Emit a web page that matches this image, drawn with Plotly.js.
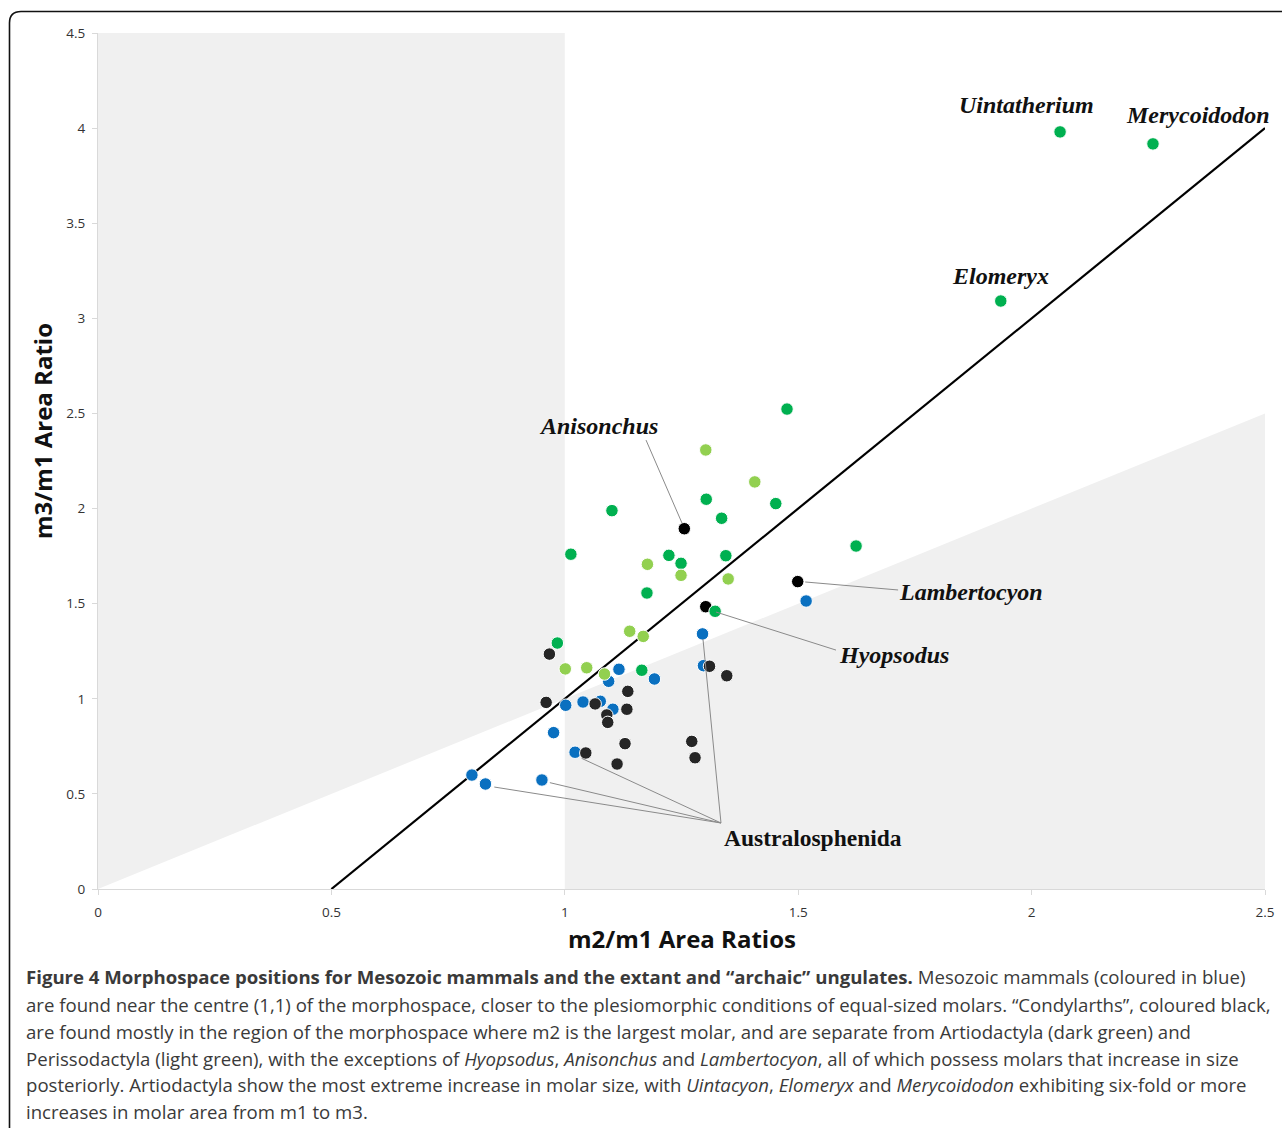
<!DOCTYPE html>
<html>
<head>
<meta charset="utf-8">
<script src="https://cdn.plot.ly/plotly-3.0.1.min.js"></script>
<style>
html,body{margin:0;padding:0;background:#fff;}
#chart{width:1282px;height:1128px;}
</style>
</head>
<body>
<div id="chart"></div>
<script>
// ---- Data (m2/m1 area ratio, m3/m1 area ratio) ----
const mesozoicX = [1.517,1.295,1.116,1.192,1.094,1.297,1.002,1.039,1.076,1.103,0.976,1.022,0.801,0.830,0.951];
const mesozoicY = [1.514,1.341,1.155,1.104,1.092,1.174,0.966,0.983,0.987,0.945,0.822,0.719,0.599,0.552,0.573];

const condylarthX = [0.967,1.310,1.347,1.135,0.960,1.065,1.133,1.090,1.092,1.129,1.272,1.279,1.045,1.112];
const condylarthY = [1.235,1.171,1.121,1.039,0.981,0.973,0.945,0.915,0.876,0.764,0.776,0.690,0.715,0.657];

// labelled condylarths: Anisonchus, Lambertocyon, Hyopsodus
const namedCondylarthX = [1.256,1.499,1.302];
const namedCondylarthY = [1.894,1.616,1.484];

const artiodactylaX = [2.061,2.260,1.934,1.476,1.303,1.452,1.336,1.101,1.624,1.013,1.223,1.249,1.345,1.176,1.322,0.984,1.165];
const artiodactylaY = [3.980,3.917,3.091,2.523,2.049,2.026,1.949,1.989,1.803,1.760,1.754,1.712,1.752,1.556,1.460,1.293,1.150];

const perissodactylaX = [1.302,1.407,1.177,1.249,1.350,1.139,1.168,1.001,1.047,1.085];
const perissodactylaY = [2.308,2.140,1.707,1.649,1.630,1.355,1.328,1.157,1.163,1.130];

// reference line m3/m1 = 2*(m2/m1) - 1
const refLineX = [0.5, 2.5];
const refLineY = [0, 4];

// taxon labels
const labelText = ["Uintatherium","Merycoidodon","Elomeryx","Anisonchus","Lambertocyon","Hyopsodus"];
const labelX    = [1.990, 2.356, 1.934, 1.073, 1.870, 1.705];
const labelY    = [4.12, 4.068, 3.225, 2.435, 1.563, 1.232];

const austLabel = {text:"Australosphenida", x:1.531, y:0.268};
// callout lines: [x0,y0,x1,y1]
const callouts = [
  [1.174,2.360,1.251,1.924],
  [1.515,1.614,1.714,1.572],
  [1.324,1.456,1.581,1.256],
  [1.3346,0.347,1.296,1.314],
  [1.3346,0.347,0.849,0.536],
  [1.3346,0.347,0.968,0.559],
  [1.3346,0.347,1.036,0.687]
];

const xTicks = [0,0.5,1,1.5,2,2.5];
const yTicks = [0,0.5,1,1.5,2,2.5,3,3.5,4,4.5];

const xTitle = "m2/m1 Area Ratios";
const yTitle = "m3/m1 Area Ratio";

const captionLines = [
  "<b>Figure 4 Morphospace positions for Mesozoic mammals and the extant and “archaic” ungulates.</b> Mesozoic mammals (coloured in blue)",
  "are found near the centre (1,1) of the morphospace, closer to the plesiomorphic conditions of equal-sized molars. “Condylarths”, coloured black,",
  "are found mostly in the region of the morphospace where m2 is the largest molar, and are separate from Artiodactyla (dark green) and",
  "Perissodactyla (light green), with the exceptions of <i>Hyopsodus</i>, <i>Anisonchus</i> and <i>Lambertocyon</i>, all of which possess molars that increase in size",
  "posteriorly. Artiodactyla show the most extreme increase in molar size, with <i>Uintacyon</i>, <i>Elomeryx</i> and <i>Merycoidodon</i> exhibiting six-fold or more",
  "increases in molar area from m1 to m3."
];

// ---- Layout geometry ----
const W = 1282, H = 1128;
const M = {l:98, r:17, t:33, b:239};
const pw = W - M.l - M.r, ph = H - M.t - M.b;
const px = v => (v - M.l) / pw;            // pixel x -> paper
const py = v => (H - M.b - v) / ph;        // pixel y -> paper

function mk(color){
  return {size:12.5, color:color, line:{color:'#ffffff', width:1}};
}

const traces = [
  {x:refLineX, y:refLineY, mode:'lines', line:{color:'#000000', width:2.2}, hoverinfo:'skip', name:'ref'},
  {x:mesozoicX, y:mesozoicY, mode:'markers', marker:mk('#0a70c0'), name:'Mesozoic mammals'},
  {x:condylarthX, y:condylarthY, mode:'markers', marker:mk('#262626'), name:'Condylarths'},
  {x:namedCondylarthX, y:namedCondylarthY, mode:'markers', marker:mk('#000000'), name:'Condylarths (named)'},
  {x:artiodactylaX, y:artiodactylaY, mode:'markers', marker:mk('#00b050'), name:'Artiodactyla'},
  {x:perissodactylaX, y:perissodactylaY, mode:'markers', marker:mk('#92d050'), name:'Perissodactyla'}
];

const shapes = [
  {type:'path', xref:'x', yref:'y', path:'M0,0 L1,1 L1,4.5 L0,4.5 Z', fillcolor:'#f0f0f0', line:{width:0}, layer:'below'},
  {type:'path', xref:'x', yref:'y', path:'M1,0 L2.5,0 L2.5,2.5 L1,1 Z', fillcolor:'#f0f0f0', line:{width:0}, layer:'below'},
  // page frame
  {type:'path', xref:'paper', yref:'paper',
   path:`M${px(9.5)},${py(1128)} L${px(9.5)},${py(23)} Q${px(9.5)},${py(11.5)} ${px(21)},${py(11.5)} L${px(1282)},${py(11.5)}`,
   line:{color:'#111111', width:1.6}, fillcolor:'rgba(0,0,0,0)'}
];
callouts.forEach(c => shapes.push({type:'line', xref:'x', yref:'y', x0:c[0], y0:c[1], x1:c[2], y1:c[3], line:{color:'#8a8a8a', width:1}}));

const annotations = [];
labelText.forEach((t,i) => annotations.push({
  x:labelX[i], y:labelY[i], xref:'x', yref:'y', text:'<b><i>'+t+'</i></b>', showarrow:false,
  font:{family:'Liberation Serif, Times New Roman, serif', size:24, color:'#111111'}
}));
annotations.push({x:austLabel.x, y:austLabel.y, xref:'x', yref:'y', text:'<b>'+austLabel.text+'</b>', showarrow:false,
  font:{family:'Liberation Serif, Times New Roman, serif', size:23.5, color:'#111111'}});

// axis titles
annotations.push({x:px(682), y:py(939), xref:'paper', yref:'paper', xanchor:'center', yanchor:'middle',
  text:'<b>'+xTitle+'</b>', showarrow:false, font:{family:'Open Sans, sans-serif', size:24, color:'#111111'}});
annotations.push({x:px(42), y:py(431), xref:'paper', yref:'paper', xanchor:'center', yanchor:'middle', textangle:-90,
  text:'<b>'+yTitle+'</b>', showarrow:false, font:{family:'Open Sans, sans-serif', size:24, color:'#111111'}});

const capY = [977,1004,1031,1058,1084.5,1111];
captionLines.forEach((t,i) => annotations.push({
  x:px(24), y:py(capY[i]), xref:'paper', yref:'paper', xanchor:'left', yanchor:'middle', align:'left',
  text:t, showarrow:false, font:{family:'Open Sans, sans-serif', size:18.6, color:'#3a3a3a'}
}));

const layout = {
  width:W, height:H, margin:M,
  paper_bgcolor:'#ffffff', plot_bgcolor:'#ffffff',
  showlegend:false,
  xaxis:{range:[0,2.5], tickvals:xTicks, ticktext:xTicks.map(String), showgrid:false, zeroline:false,
    showline:true, linecolor:'#d9d9d9', linewidth:1, ticks:'outside', ticklen:5, tickcolor:'#d9d9d9',
    ticklabelstandoff:6,
    tickfont:{family:'Open Sans, sans-serif', size:13.5, color:'#333333'},
    automargin:false, fixedrange:true},
  yaxis:{range:[0,4.5], tickvals:yTicks, ticktext:yTicks.map(String), showgrid:false, zeroline:false,
    showline:true, linecolor:'#d9d9d9', linewidth:1, ticks:'outside', ticklen:5, tickcolor:'#d9d9d9',
    ticklabelstandoff:4,
    tickfont:{family:'Open Sans, sans-serif', size:13.5, color:'#333333'},
    automargin:false, fixedrange:true},
  shapes:shapes,
  annotations:annotations
};

Plotly.newPlot('chart', traces, layout, {displayModeBar:false, staticPlot:true});
</script>
</body>
</html>
